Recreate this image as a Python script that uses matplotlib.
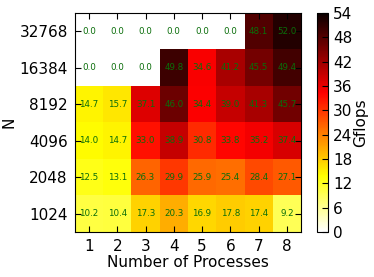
import numpy as np
import matplotlib
matplotlib.use('Agg')
import matplotlib.pyplot as plt

procs = [1, 2, 3, 4, 5, 6, 7, 8]
sizes = [1024, 2048, 4096, 8192, 16384, 32768]

# rows: N = 1024 ... 32768
gflops = np.array([
    [10.2, 10.4, 17.3, 20.3, 16.9, 17.8, 17.4, 9.2],
    [12.5, 13.1, 26.3, 29.9, 25.9, 25.4, 28.4, 27.1],
    [14.0, 14.7, 33.0, 38.9, 30.8, 33.8, 35.2, 37.4],
    [14.7, 15.7, 37.1, 46.0, 34.4, 39.0, 41.3, 45.7],
    [0.0, 0.0, 0.0, 49.8, 34.6, 41.2, 45.5, 49.4],
    [0.0, 0.0, 0.0, 0.0, 0.0, 0.0, 48.1, 52.0],
])

fig = plt.figure(figsize=(3.74, 2.77), dpi=100)
ax = fig.add_axes([0.2, 0.163, 0.605, 0.79])
cax = fig.add_axes([0.848, 0.163, 0.03, 0.79])

mesh = ax.pcolormesh(np.arange(len(procs) + 1), np.arange(len(sizes) + 1), gflops,
                     cmap='hot_r', vmin=0, vmax=54)

for i in range(len(sizes)):
    for j in range(len(procs)):
        ax.text(j + 0.5, i + 0.5, f"{gflops[i, j]:.1f}", ha='center', va='center',
                fontsize=6.3, color='#0a6e0a')

ax.set_xlim(0, len(procs))
ax.set_ylim(0, len(sizes))
ax.set_xticks(np.arange(len(procs)) + 0.5)
ax.set_xticklabels([str(p) for p in procs])
ax.set_yticks(np.arange(len(sizes)) + 0.5)
ax.set_yticklabels([str(s) for s in sizes])
ax.tick_params(direction='in', top=True, right=True, labelsize=11, length=4, pad=5)
ax.set_xlabel('Number of Processes', fontsize=11, labelpad=1)
ax.set_ylabel('N', fontsize=11, labelpad=2)

cb = fig.colorbar(mesh, cax=cax, ticks=np.arange(0, 55, 6))
cb.ax.tick_params(labelsize=11, direction='in', length=4)
cb.set_label('Gflops', fontsize=11, labelpad=0)

fig.savefig('out.png', dpi=100)
